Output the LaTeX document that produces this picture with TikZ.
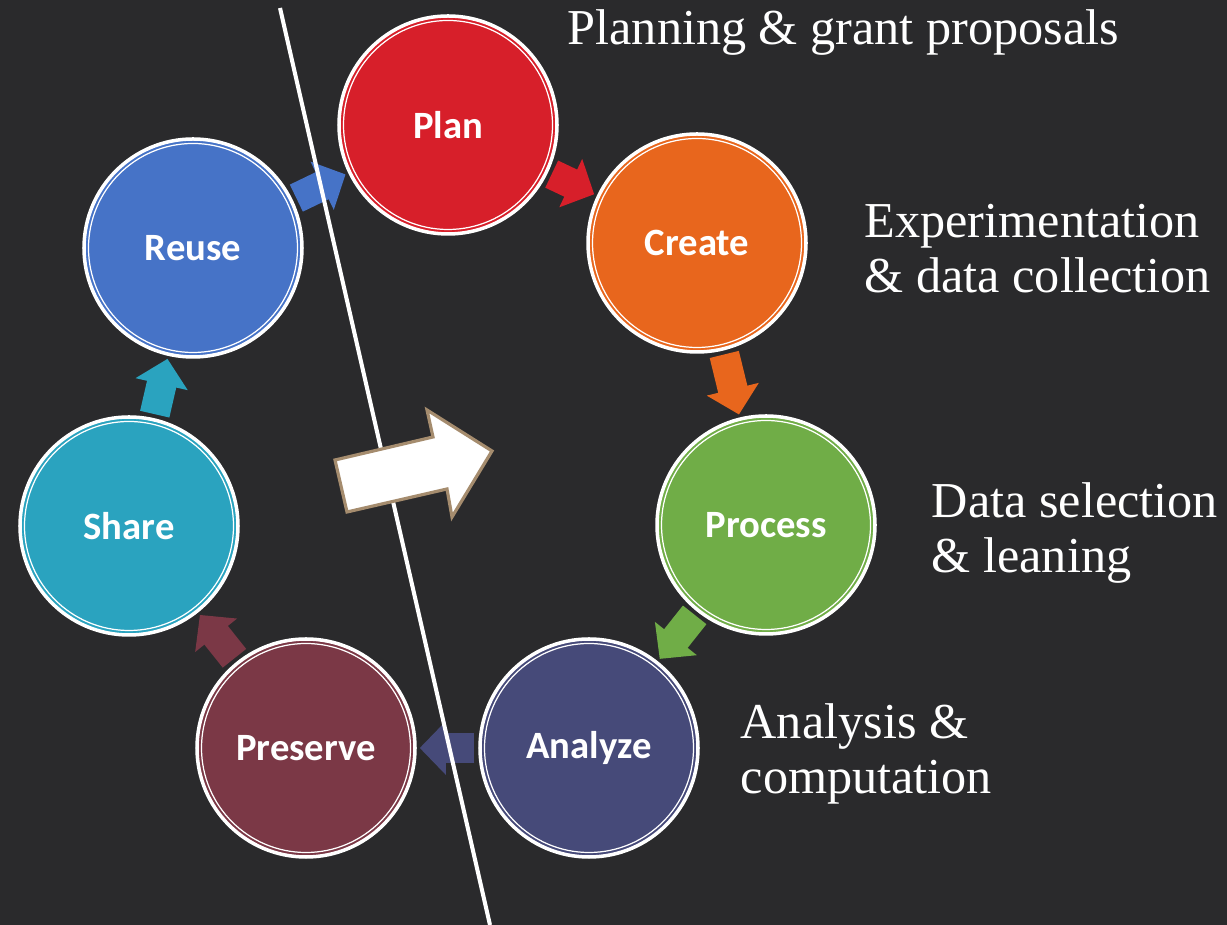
\documentclass[tikz,border=0pt]{standalone}
\usepackage{fontspec}
\setmainfont{Liberation Serif}
\newfontfamily\stagefont{Carlito}
\usetikzlibrary{arrows.meta}
\definecolor{bg}{HTML}{2A2A2C}
\definecolor{plan}{HTML}{D71F2A}
\definecolor{create}{HTML}{E8661D}
\definecolor{process}{HTML}{70AD47}
\definecolor{analyze}{HTML}{464A79}
\definecolor{preserve}{HTML}{7B3846}
\definecolor{share}{HTML}{2AA3BF}
\definecolor{reuse}{HTML}{4673C7}
\definecolor{rim}{HTML}{A58C6E}
\tikzset{
  stage/.style={circle, minimum size=2.18cm, inner sep=0pt, fill=#1, draw=white,
    line width=1pt, text=white, font=\stagefont\bfseries\fontsize{11}{13}\selectfont},
  cycarrow/.style={draw=#1, line width=0.30cm, shorten <=0.04cm, shorten >=0.03cm,
    -{Triangle[length=0.26cm,width=0.52cm]}},
  note/.style={anchor=base west, inner sep=0pt, text=white, align=left,
    font=\fontsize{14.3}{15.9}\selectfont}
}

\begin{document}
\begin{tikzpicture}[x=1cm,y=-1cm]
      \fill[bg] (0,0) rectangle (12.27,9.25);
      \useasboundingbox (0,0) rectangle (12.27,9.25);
      \node[stage=plan] (n1) at (4.48,1.25) {Plan};
      \node[stage=create] (n2) at (6.97,2.43) {Create};
      \node[stage=process] (n3) at (7.66,5.25) {Process};
      \node[stage=analyze] (n4) at (5.89,7.48) {Analyze};
      \node[stage=preserve] (n5) at (3.06,7.48) {Preserve};
      \node[stage=share] (n6) at (1.29,5.26) {Share};
      \node[stage=reuse] (n7) at (1.93,2.48) {Reuse};
      \foreach \i in {1,...,7} {
	\draw[white, line width=0.35pt] (n\i.center) circle (1.045cm);
      };
      \foreach \i/\j/\c in {7/1/reuse, 1/2/plan, 2/3/create, 3/4/process, 4/5/analyze, 5/6/preserve, 6/7/share} {
	\draw[cycarrow=\c] (n\i) -- (n\j);
      };
      \draw[white, line width=1.15pt] (2.80,0.08) -- (4.90,9.25);
      \draw[fill=white, draw=rim, line width=0.9pt, line join=miter]
        (3.35,4.60) -- (4.33,4.37) -- (4.27,4.10) -- (4.92,4.51)
        -- (4.52,5.17) -- (4.47,4.89) -- (3.47,5.12) -- cycle;
      \node[note] (t1) at (5.67,0.45) {Planning \& grant proposals};
      \node[note] (t2) at (8.64,2.93) {Experimentation\\\& data collection};
      \node[note] (t3) at (9.31,5.73) {Data selection\\\& leaning};
      \node[note] (t4) at (7.40,7.94) {Analysis \&\\computation};
\end{tikzpicture}
\end{document}
